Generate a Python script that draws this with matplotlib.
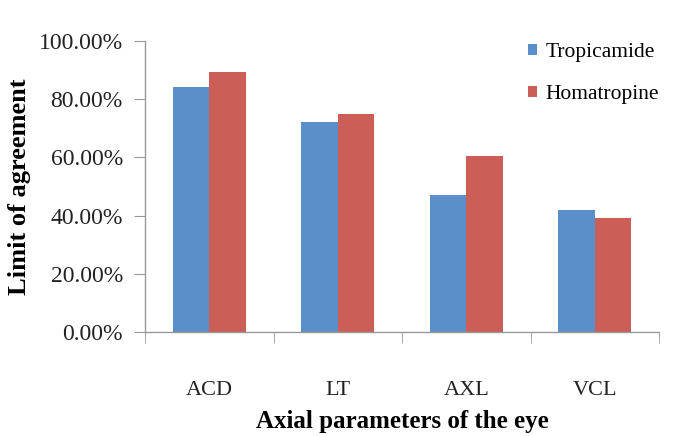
import matplotlib
matplotlib.use("Agg")
import matplotlib.pyplot as plt
import numpy as np

categories = ["ACD", "LT", "AXL", "VCL"]
tropicamide = [84.3, 72.3, 47.2, 42.0]
homatropine = [89.4, 75.0, 60.6, 39.1]
yticks = [0, 20, 40, 60, 80, 100]
ytick_labels = ["0.00%", "20.00%", "40.00%", "60.00%", "80.00%", "100.00%"]

blue = "#5a8fca"
red = "#cc5e58"
font = "Liberation Serif"

fig = plt.figure(figsize=(6.74, 4.36), dpi=100)
ax = fig.add_axes([145/674, 1-332/436, (659-145)/674, (332-41)/436])

x = np.arange(len(categories))
w = 0.284
ax.bar(x - w/2, tropicamide, width=w, color=blue, label="Tropicamide")
ax.bar(x + w/2, homatropine, width=w, color=red, label="Homatropine")

ax.set_xlim(-0.5, len(categories) - 0.5)
ax.set_ylim(0, 100)
ax.set_yticks(yticks)
ax.set_yticklabels(ytick_labels, fontfamily=font, fontsize=17, color="#222222")
ax.set_xticks(x)
ax.set_xticklabels(categories, fontfamily=font, fontsize=16, color="#222222")
ax.set_xticks(np.arange(-0.5, len(categories), 1.0), minor=True)
ax.tick_params(axis="x", which="major", length=0, pad=35)
ax.tick_params(axis="x", which="minor", length=8, color="#999999", direction="out")
ax.tick_params(axis="y", length=8, color="#999999", direction="out", pad=8)

for s in ["top", "right"]:
    ax.spines[s].set_visible(False)
for s in ["left", "bottom"]:
    ax.spines[s].set_color("#999999")
    ax.spines[s].set_linewidth(1.0)

ax.set_ylabel("Limit of agreement", fontfamily=font, fontsize=19, fontweight="bold")
ax.yaxis.label.set_va("center")
ax.yaxis.set_label_coords(-(145-20)/514, 0.5)
ax.set_xlabel("Axial parameters of the eye", fontfamily=font, fontsize=18, fontweight="bold")
ax.xaxis.set_label_coords((402-145)/514, -(421-332)/291)
ax.xaxis.label.set_va("center")

leg = ax.legend(loc="upper right", bbox_to_anchor=(1.0375, 1.06), frameon=False,
                prop={"family": font, "size": 15.5}, handlelength=0.4, handleheight=0.4,
                handletextpad=0.4, labelspacing=1.08)

fig.savefig("out.png", dpi=100, facecolor="white")
